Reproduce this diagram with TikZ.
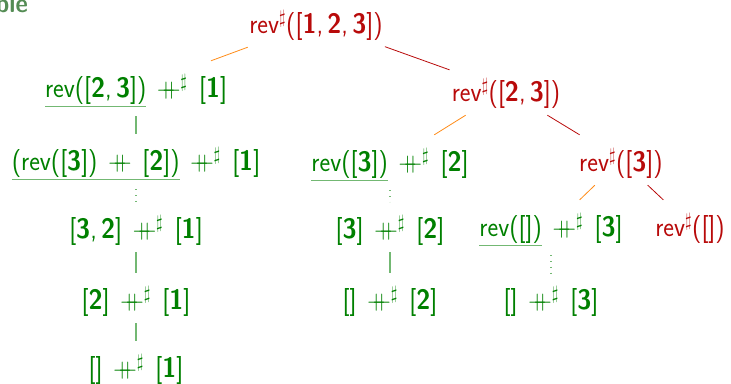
\documentclass[tikz,border=0pt]{standalone}
\usepackage{graphicx}
\definecolor{exgreen}{rgb}{0,0.5,0}
\definecolor{alertred}{rgb}{0.72,0.04,0.04}
\definecolor{ulgreen}{rgb}{0.45,0.72,0.45}
\definecolor{titlegreen}{rgb}{0.33,0.55,0.33}
\definecolor{edgeorange}{rgb}{1,0.55,0.1}
\newcommand{\cc}{\mathbin{+\mkern-9mu+}}
\newcommand{\pp}{\hspace{0.42em}$\cc$\hspace{0.42em}}
\newcommand{\pps}{\hspace{0.42em}$\cc^\sharp$\hspace{0.45em}}
\newcommand{\B}[1]{\textbf{#1}}
\newcommand{\T}[1]{\scalebox{1}[1.1]{#1}}
\newsavebox{\redexbox}
\newcommand{\redex}[1]{\sbox{\redexbox}{#1}\rlap{\color{ulgreen}\rule[-9pt]{\wd\redexbox}{1.2pt}}\usebox{\redexbox}}
\tikzset{
  term/.style={anchor=base, inner xsep=2pt, inner ysep=0pt, text height=36pt, text depth=14pt,
    font=\fontsize{25.5}{30}\selectfont\sffamily, text=exgreen},
  ulterm/.style={term, text depth=19pt},
  redterm/.style={term, text=alertred},
  oedge/.style={draw=edgeorange, line width=0.8pt},
  redge/.style={draw=alertred, line width=0.8pt},
  gedge/.style={draw=ulgreen, line width=1.3pt},
  dedge/.style={draw=ulgreen, line width=1.2pt, dash pattern=on 1.2pt off 4.6pt},
}
\begin{document}
\begin{tikzpicture}[x=1pt,y=-1pt]
\useasboundingbox (0,0) rectangle (731,383);
\node[anchor=base east, inner sep=0pt, text=titlegreen, font=\fontsize{24}{28}\selectfont\sffamily\bfseries] (title) at (28,12) {\T{ble}};
\node[redterm] (root) at (316,33) {\T{rev$^\sharp$([\B1,\,\B2,\,\B3])}};
\node[ulterm] (lc) at (136,97) {\T{\redex{rev([\B2,\,\B3])}\pps[\B1]}};
\node[redterm] (rc) at (506,101) {\T{rev$^\sharp$([\B2,\,\B3])}};
\node[ulterm] (n2a) at (136,170) {\T{\redex{(rev([\B3])\pp[\B2])}\pps[\B1]}};
\node[ulterm] (n2b) at (390,171) {\T{\redex{rev([\B3])}\pps[\B2]}};
\node[redterm] (n2c) at (621,171) {\T{rev$^\sharp$([\B3])}};
\node[term] (n3a) at (136,238) {\T{[\B3,\,\B2]\pps[\B1]}};
\node[term] (n3b) at (390,238) {\T{[\B3]\pps[\B2]}};
\node[ulterm] (n3c) at (551,236) {\T{\redex{rev([])}\pps[\B3]}};
\node[redterm] (n3d) at (690,236) {\T{rev$^\sharp$([])}};
\node[term] (n4a) at (136,309) {\T{[\B2]\pps[\B1]}};
\node[term] (n4b) at (390,309) {\T{[]\pps[\B2]}};
\node[term] (n4c) at (551,309) {\T{[]\pps[\B3]}};
\node[term] (n5a) at (136,377) {\T{[]\pps[\B1]}};
\draw[oedge] (root) -- (lc);
\draw[redge] (root) -- (rc);
\draw[oedge] (rc) -- (n2b);
\draw[redge] (rc) -- (n2c);
\draw[oedge] (n2c) -- (n3c);
\draw[redge] (n2c) -- (n3d);
\draw[gedge] (lc) -- (n2a);
\draw[dedge] (n2a) -- (n3a);
\draw[gedge] (n3a) -- (n4a);
\draw[gedge] (n4a) -- (n5a);
\draw[dedge] (n2b) -- (n3b);
\draw[gedge] (n3b) -- (n4b);
\draw[dedge] (n3c) -- (n4c);
\end{tikzpicture}
\end{document}
